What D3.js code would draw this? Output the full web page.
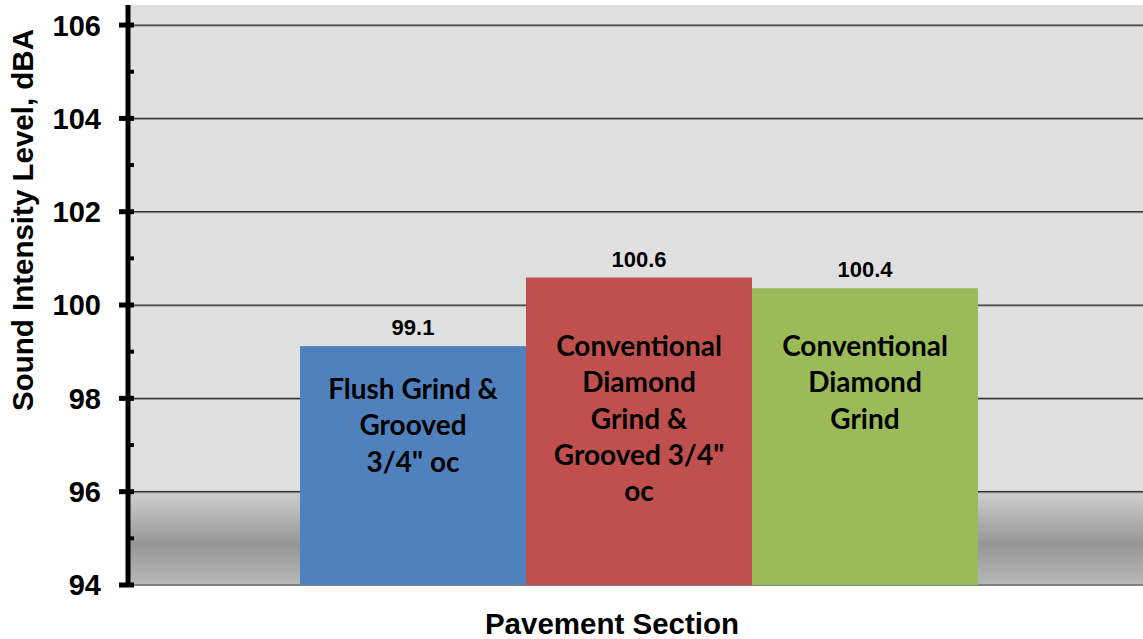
<!DOCTYPE html>
<html>
<head>
<meta charset="utf-8">
<script src="https://cdn.jsdelivr.net/npm/d3@7"></script>
<style>
  body { margin: 0; background: #fff; }
  svg { display: block; }
</style>
</head>
<body>
<script>
const categories = ['Flush Grind & Grooved 3/4" oc', 'Conventional Diamond Grind & Grooved 3/4" oc', 'Conventional Diamond Grind'];
const barLines = [
  ['Flush Grind &', 'Grooved', '3/4" oc'],
  ['Conventional', 'Diamond', 'Grind &', 'Grooved 3/4"', 'oc'],
  ['Conventional', 'Diamond', 'Grind']
];
const values = [99.12, 100.59, 100.36];
const colors = ['#4f81bd', '#c0504d', '#9bbb59'];
const majorTicks = [94, 96, 98, 100, 102, 104, 106];
const minorTicks = [95, 97, 99, 101, 103, 105];

const W = 1143, H = 639;
const margin = {top: 5, right: 0, bottom: 54, left: 128};
const iw = W - margin.left - margin.right;
const ih = H - margin.top - margin.bottom;

const svg = d3.select('body').append('svg')
  .attr('width', W)
  .attr('height', H);

const defs = svg.append('defs');
const grad = defs.append('linearGradient')
  .attr('id', 'bg')
  .attr('x1', 0).attr('y1', 0).attr('x2', 0).attr('y2', 1);
[[0, '#e0e0e0'], [0.835, '#e0e0e0'], [0.838, '#d0d0d0'], [0.93, '#969696'], [1, '#b8b8b8']]
  .forEach(([o, c]) => grad.append('stop').attr('offset', o).attr('stop-color', c));

const g = svg.append('g').attr('transform', `translate(${margin.left},${margin.top})`);

const y = d3.scaleLinear().domain([94, 106.43]).range([ih, 0]);
const x = d3.scaleBand().domain(categories).range([172, 850]).padding(0);

g.append('rect')
  .attr('width', iw).attr('height', ih)
  .attr('fill', 'url(#bg)');

// gridlines
g.selectAll('.grid')
  .data(majorTicks.filter(d => d > 94))
  .enter().append('line')
  .attr('x1', 0).attr('x2', iw)
  .attr('y1', d => y(d) + 1).attr('y2', d => y(d) + 1)
  .attr('stroke', '#8a8a8a').attr('stroke-width', 1);
g.selectAll('.grid2')
  .data(majorTicks.filter(d => d > 94))
  .enter().append('line')
  .attr('x1', 0).attr('x2', iw)
  .attr('y1', d => y(d)).attr('y2', d => y(d))
  .attr('stroke', '#333').attr('stroke-width', 1.2);

g.append('line')
  .attr('x1', 0).attr('x2', iw)
  .attr('y1', ih).attr('y2', ih)
  .attr('stroke', '#808080').attr('stroke-width', 2);

// bars
const bars = g.selectAll('.bar')
  .data(categories)
  .enter().append('g');

bars.append('rect')
  .attr('x', d => x(d))
  .attr('width', x.bandwidth())
  .attr('y', (d, i) => y(values[i]))
  .attr('height', (d, i) => ih - y(values[i]))
  .attr('fill', (d, i) => colors[i]);

bars.append('text')
  .attr('x', d => x(d) + x.bandwidth() / 2)
  .attr('y', (d, i) => y(values[i]) - 11)
  .attr('text-anchor', 'middle')
  .attr('font-family', 'Liberation Sans, Arial, sans-serif')
  .attr('font-weight', 'bold')
  .attr('font-size', 22)
  .text((d, i) => d3.format('.1f')(values[i]));

bars.each(function(d, i) {
  const t = d3.select(this).append('text')
    .attr('text-anchor', 'middle')
    .attr('font-family', 'Lato, Open Sans, sans-serif')
    .attr('font-weight', 'bold')
    .attr('font-size', 28)
    .attr('fill', '#000');
  const startY = i === 0 ? 399 : 356;
  barLines[i].forEach((ln, k) => {
    t.append('tspan')
      .attr('x', x(d) + x.bandwidth() / 2)
      .attr('y', startY + k * 36.3 - margin.top)
      .text(ln);
  });
});

// y axis
const axis = g.append('g');
axis.append('line')
  .attr('x1', 0).attr('x2', 0).attr('y1', 0).attr('y2', ih)
  .attr('stroke', '#000').attr('stroke-width', 5);
axis.selectAll('.maj')
  .data(majorTicks).enter().append('line')
  .attr('x1', -9).attr('x2', 6)
  .attr('y1', d => y(d)).attr('y2', d => y(d))
  .attr('stroke', '#000').attr('stroke-width', 5);
axis.selectAll('.min')
  .data(minorTicks).enter().append('line')
  .attr('x1', 0).attr('x2', 6)
  .attr('y1', d => y(d)).attr('y2', d => y(d))
  .attr('stroke', '#000').attr('stroke-width', 4);
axis.selectAll('.lab')
  .data(majorTicks).enter().append('text')
  .attr('x', -27)
  .attr('y', d => y(d))
  .attr('dy', '0.36em')
  .attr('text-anchor', 'end')
  .attr('font-family', 'Liberation Sans, Arial, sans-serif')
  .attr('font-weight', 'bold')
  .attr('font-size', 29)
  .text(d => d);

svg.append('text')
  .attr('transform', `translate(33,220) rotate(-90)`)
  .attr('text-anchor', 'middle')
  .attr('font-family', 'Liberation Sans, Arial, sans-serif')
  .attr('font-weight', 'bold')
  .attr('font-size', 29.5)
  .text('Sound Intensity Level, dBA');

svg.append('text')
  .attr('x', 612)
  .attr('y', 634)
  .attr('text-anchor', 'middle')
  .attr('font-family', 'Liberation Sans, Arial, sans-serif')
  .attr('font-weight', 'bold')
  .attr('font-size', 29.5)
  .text('Pavement Section');
</script>
</body>
</html>
